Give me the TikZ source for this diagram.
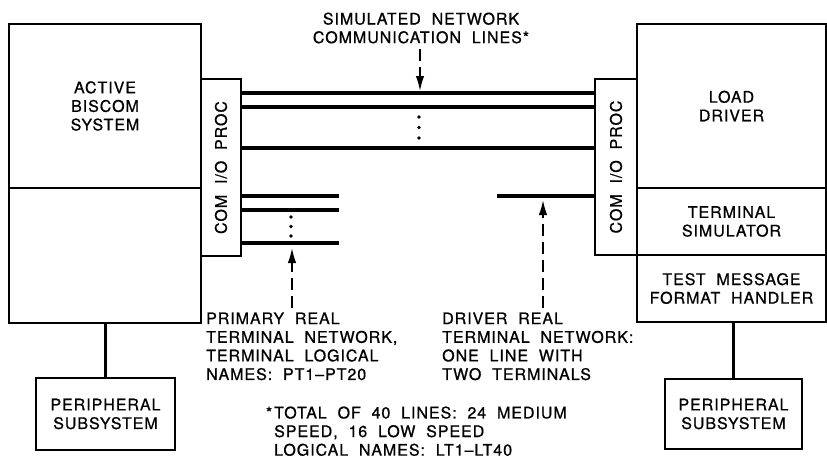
\documentclass[tikz,border=0pt]{standalone}
\usepackage{fontspec}
\setmainfont{TeX Gyre Heros}[LetterSpace=6, WordSpace=2, FakeBold=0.8]
\usetikzlibrary{arrows.meta}
\begin{document}
\begin{tikzpicture}[x=1pt,y=-1pt,
  txt/.style={font=\fontsize{16}{18.6}\selectfont},
  box/.style={draw, line width=1.8pt, inner sep=0pt, txt, align=center},
  bus/.style={line width=3.4pt},
  darrow/.style={line width=1.7pt, dash pattern=on 12pt off 6pt, -{Latex[length=15pt,width=8.5pt]}},
  dotmark/.style={circle, fill, inner sep=0pt, minimum size=3.8pt},
  note/.style={txt, align=left, inner sep=0pt, anchor=north west}]
\useasboundingbox (0,0) rectangle (827,458);

% left system
\node[box, minimum width=192, minimum height=164] (biscom) at (105,106) {ACTIVE\\BISCOM\\SYSTEM};
\node[box, minimum width=192, minimum height=135] (biscomlow) at (105,255.5) {};
\node[box, minimum width=40, minimum height=177] (comL) at (221,167.5) {\rotatebox{90}{COM I/O PROC}};

% right system
\node[box, minimum width=42, minimum height=176] (comR) at (616,167) {\rotatebox{90}{COM I/O PROC}};
\node[box, minimum width=189, minimum height=164] (load) at (731.5,106) {LOAD\\DRIVER};
\node[box, minimum width=189, minimum height=67] (termsim) at (731.5,221.5) {TERMINAL\\SIMULATOR};
\node[box, minimum width=189, minimum height=67] (testmsg) at (731.5,288.5) {TEST MESSAGE\\FORMAT HANDLER};

% peripherals
\node[box, minimum width=139, minimum height=72] (periphL) at (105.5,414) {PERIPHERAL\\SUBSYSTEM};
\node[box, minimum width=137, minimum height=70] (periphR) at (733.5,414) {PERIPHERAL\\SUBSYSTEM};

\draw[bus] (biscomlow.south -| periphL.north) -- (periphL.north);
\draw[bus] (testmsg.south -| periphR.north) -- (periphR.north);

% simulated network lines
\foreach \yy in {93,107,148}
  \draw[bus] (comL.east |- 0,\yy) -- (comR.west |- 0,\yy);
\foreach \yy [count=\i] in {117,127.5,138}
  \node[dotmark] (td\i) at (419,\yy) {};

% primary real terminal network
\coordinate (pend) at (339,0);
\foreach \yy in {196,210,243}
  \draw[bus] (comL.east |- 0,\yy) -- (pend |- 0,\yy);
\foreach \yy [count=\i] in {217,226.5,236}
  \node[dotmark] (ld\i) at (291,\yy) {};

% driver real terminal network
\coordinate (dstart) at (497,196);
\draw[bus] (dstart) -- (comR.west |- dstart);

% labels
\node[txt, align=center, inner sep=0pt] (simlab) at (421,28) {SIMULATED NETWORK\\COMMUNICATION LINES*};
\node[note] (primlab) at (206,312.3) {PRIMARY REAL\\TERMINAL NETWORK,\\TERMINAL LOGICAL\\NAMES: PT1--PT20};
\node[note] (drvlab) at (442,312.3) {DRIVER REAL\\TERMINAL NETWORK:\\ONE LINE WITH\\TWO TERMINALS};
\node[note] (totlab) at (274,406.3) {\llap{*\hspace{2pt}}TOTAL OF 40 LINES: 24 MEDIUM\\SPEED, 16 LOW SPEED\\LOGICAL NAMES: LT1--LT40};

% arrows
\coordinate (a1s) at (420,49);
\coordinate (a1e) at (420,91);
\draw[darrow] (a1s) -- (a1e);
\coordinate (a2s) at (292,308);
\coordinate (a2e) at (292,248);
\draw[darrow] (a2s) -- (a2e);
\coordinate (a3s) at (543,308);
\coordinate (a3e) at (543,200);
\draw[darrow] (a3s) -- (a3e);
\end{tikzpicture}
\end{document}
